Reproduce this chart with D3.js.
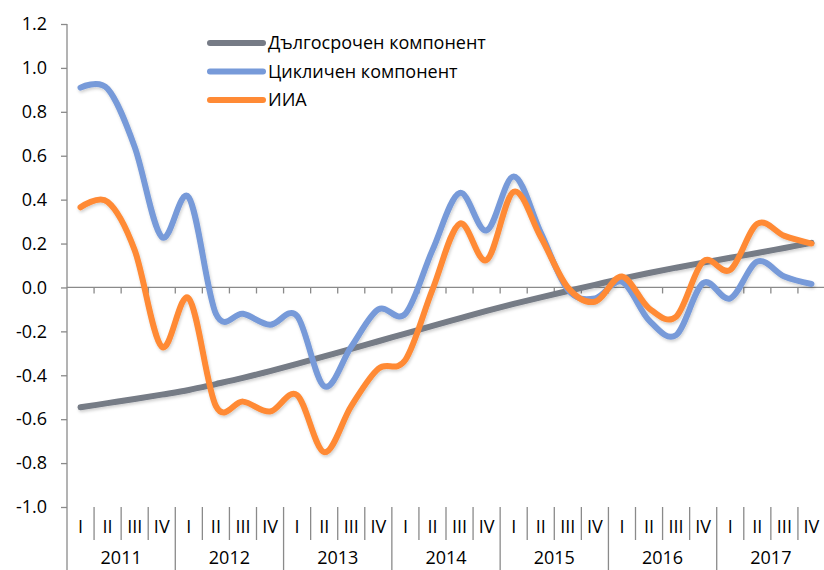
<!DOCTYPE html>
<html>
<head>
<meta charset="utf-8">
<script src="https://cdn.jsdelivr.net/npm/d3@7"></script>
<style>
  html, body { margin: 0; padding: 0; background: #fff; }
  svg { display: block; font-family: "Open Sans", "Noto Sans", sans-serif; }
</style>
</head>
<body>
<div class="container"></div>
<script>
// chart data
const years = [2011, 2012, 2013, 2014, 2015, 2016, 2017]
const quarterLabels = ['I', 'II', 'III', 'IV']
const yTicks = [-1.0, -0.8, -0.6, -0.4, -0.2, 0.0, 0.2, 0.4, 0.6, 0.8, 1.0, 1.2]

const seriesNames = ['Дългосрочен компонент', 'Цикличен компонент', 'ИИА']

const longTerm = [
  -0.546, -0.527, -0.508, -0.488, -0.467, -0.440, -0.412, -0.381,
  -0.348, -0.314, -0.280, -0.245, -0.210, -0.175, -0.141, -0.107,
  -0.075, -0.045, -0.016, 0.012, 0.040, 0.066, 0.090, 0.113,
  0.135, 0.157, 0.180, 0.203
]
const cyclical = [
  0.91, 0.905, 0.64, 0.23, 0.41, -0.12, -0.12, -0.17,
  -0.13, -0.45, -0.27, -0.10, -0.12, 0.17, 0.43, 0.26,
  0.505, 0.25, -0.01, -0.05, 0.026, -0.15, -0.217, 0.02,
  -0.05, 0.118, 0.05, 0.016
]
const iia = [
  0.365, 0.39, 0.17, -0.27, -0.05, -0.54, -0.52, -0.565,
  -0.49, -0.75, -0.54, -0.37, -0.33, -0.01, 0.29, 0.125,
  0.436, 0.23, 0.0, -0.065, 0.05, -0.095, -0.133, 0.118,
  0.08, 0.29, 0.235, 0.20
]

function LineChart() {
  const SVG_WIDTH = 824
  const SVG_HEIGHT = 570
  const PLOT = { LEFT: 67, RIGHT: 825, TOP: 24, BOTTOM: 507 }
  const COLORS = ['#767b86', '#779ad9', '#ff8a35']
  const FONT_SIZE = '18px'
  const AXIS_COLOR = '#8a8a8a'

  const periods = []
  years.forEach(yr => quarterLabels.forEach(q => periods.push(`${yr}-${q}`)))

  const series = [longTerm, cyclical, iia]

  const svg = d3.select('.container')
    .append('svg')
    .attr('width', SVG_WIDTH)
    .attr('height', SVG_HEIGHT)

  // soft shadow like the original
  svg.append('defs')
    .append('filter')
      .attr('id', 'shadow')
      .attr('x', '-5%').attr('y', '-5%')
      .attr('width', '110%').attr('height', '115%')
    .append('feDropShadow')
      .attr('dx', 1).attr('dy', 2)
      .attr('stdDeviation', 1.5)
      .attr('flood-color', '#000')
      .attr('flood-opacity', 0.18)

  const x = d3.scaleBand()
    .domain(periods)
    .range([PLOT.LEFT, PLOT.RIGHT])
    .padding(0)

  const y = d3.scaleLinear()
    .domain([-1.0, 1.2])
    .range([PLOT.BOTTOM, PLOT.TOP])

  // y axis
  const yAxis = d3.axisLeft(y)
    .tickValues(yTicks)
    .tickFormat(d => (Math.round(d * 10) / 10).toFixed(1))
    .tickSizeInner(6)
    .tickSizeOuter(0)
    .tickPadding(14)

  const gy = svg.append('g')
    .attr('transform', `translate(${PLOT.LEFT}, 0)`)
    .call(yAxis)
  gy.select('.domain').remove()
  gy.selectAll('line').attr('stroke', AXIS_COLOR).attr('stroke-width', 1.3)
  gy.selectAll('text')
    .attr('font-size', FONT_SIZE)
    .attr('font-family', '"Open Sans", sans-serif')
    .attr('fill', '#000')

  svg.append('line')
    .attr('x1', PLOT.LEFT).attr('x2', PLOT.LEFT)
    .attr('y1', PLOT.TOP).attr('y2', SVG_HEIGHT)
    .attr('stroke', AXIS_COLOR)
    .attr('stroke-width', 1.3)

  // zero line with category ticks
  const y0 = y(0)
  svg.append('line')
    .attr('x1', PLOT.LEFT).attr('x2', SVG_WIDTH)
    .attr('y1', y0).attr('y2', y0)
    .attr('stroke', AXIS_COLOR)
    .attr('stroke-width', 1.3)

  svg.append('g')
    .selectAll('line')
    .data(periods.slice(1))
    .enter()
      .append('line')
      .attr('x1', d => x(d)).attr('x2', d => x(d))
      .attr('y1', y0).attr('y2', y0 + 6)
      .attr('stroke', AXIS_COLOR)
      .attr('stroke-width', 1.3)

  // category labels under the plot
  const cat = svg.append('g')
  cat.selectAll('line')
    .data(periods.slice(1))
    .enter()
      .append('line')
      .attr('x1', d => x(d)).attr('x2', d => x(d))
      .attr('y1', PLOT.BOTTOM)
      .attr('y2', d => d.endsWith('-I') ? SVG_HEIGHT : 540)
      .attr('stroke', AXIS_COLOR)
      .attr('stroke-width', 1.3)

  cat.selectAll('text.q')
    .data(periods)
    .enter()
      .append('text')
      .attr('class', 'q')
      .attr('x', d => x(d) + x.bandwidth() / 2)
      .attr('y', 527)
      .attr('dy', '0.35em')
      .attr('text-anchor', 'middle')
      .attr('font-size', FONT_SIZE)
      .text(d => d.split('-')[1])

  cat.selectAll('text.yr')
    .data(years)
    .enter()
      .append('text')
      .attr('class', 'yr')
      .attr('x', d => (x(`${d}-I`) + x(`${d}-IV`) + x.bandwidth()) / 2)
      .attr('y', 558)
      .attr('dy', '0.35em')
      .attr('text-anchor', 'middle')
      .attr('font-size', FONT_SIZE)
      .text(d => d)

  // lines
  const line = d3.line()
    .x((d, i) => x(periods[i]) + x.bandwidth() / 2)
    .y(d => y(d))
    .curve(d3.curveCardinal.tension(0))

  svg.append('g')
    .attr('filter', 'url(#shadow)')
    .selectAll('path')
    .data(series)
    .enter()
      .append('path')
      .attr('d', line)
      .attr('fill', 'none')
      .attr('stroke', (d, i) => COLORS[i])
      .attr('stroke-width', 6)
      .attr('stroke-linecap', 'round')
      .attr('stroke-linejoin', 'round')

  // legend
  const legend = svg.append('g')
    .selectAll('g')
    .data(seriesNames)
    .enter()
      .append('g')
      .attr('transform', (d, i) => `translate(210, ${43 + i * 28.5})`)

  legend.append('line')
    .attr('x1', 0).attr('x2', 53)
    .attr('stroke', (d, i) => COLORS[i])
    .attr('stroke-width', 6)
    .attr('stroke-linecap', 'round')

  legend.append('text')
    .attr('x', 58)
    .attr('dy', '0.35em')
    .attr('font-size', FONT_SIZE)
    .text(d => d)
}

LineChart()
</script>
</body>
</html>
